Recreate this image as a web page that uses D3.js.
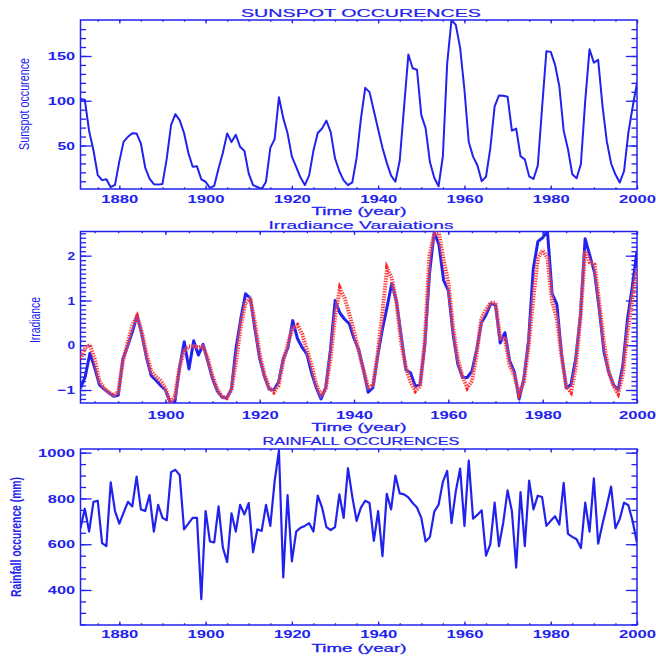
<!DOCTYPE html>
<html>
<head>
<meta charset="utf-8">
<script src="https://cdnjs.cloudflare.com/ajax/libs/d3/7.8.5/d3.min.js"></script>
<style>
  body { margin: 0; background: #ffffff; }
  svg { display: block; }
</style>
</head>
<body>
<svg id="chart" width="656" height="656"></svg>
<script>
// yearly sunspot numbers, 1871 - 2000
var sunYears = d3.range(1871, 2001);
var sunspots = [102, 101, 66.2, 44.7, 17.0, 11.3, 12.4, 3.4, 6.0, 32.3,
	54.3, 59.7, 63.7, 63.5, 52.2, 25.4, 13.1, 6.8, 6.3, 7.1,
	35.6, 73.0, 85.1, 78.0, 64.0, 41.8, 26.2, 26.7, 12.1, 9.5,
	2.7, 5.0, 24.4, 42.0, 63.5, 53.8, 62.0, 48.5, 43.9, 18.6,
	5.7, 3.6, 1.4, 9.6, 47.4, 57.1, 103.9, 80.6, 63.6, 37.6,
	26.1, 14.2, 5.8, 16.7, 44.3, 63.9, 69.0, 77.8, 64.9, 35.7,
	21.2, 11.1, 5.7, 8.7, 36.1, 79.7, 114.4, 109.6, 88.8, 67.8,
	47.5, 30.6, 16.3, 9.6, 33.2, 92.6, 151.6, 136.3, 134.7, 83.9,
	69.4, 31.5, 13.9, 4.4, 38.0, 141.7, 190.2, 184.8, 159.0, 112.3,
	53.9, 37.6, 27.9, 10.2, 15.1, 47.0, 93.8, 105.9, 105.5, 104.5,
	66.6, 68.9, 38.0, 34.5, 15.5, 12.6, 27.5, 92.5, 155.4, 154.6,
	140.4, 115.9, 66.6, 45.9, 17.9, 13.4, 29.4, 100.2, 157.6, 142.6,
	145.7, 94.3, 54.6, 29.9, 17.5, 8.6, 21.5, 64.3, 93.3, 119.6];

// irradiance variations, 1882 - 2000 (solid blue and dotted red curves)
var irrYears = d3.range(1882, 2001);
var irrSolid = [-0.96, -0.70, -0.18, -0.50, -0.88, -0.98, -1.06, -1.14, -1.12, -0.30,
	-0.02, 0.30, 0.67, 0.24, -0.28, -0.68, -0.78, -0.90, -1.00, -1.27,
	-1.27, -0.50, 0.08, -0.53, 0.10, -0.22, 0.02, -0.36, -0.75, -1.02,
	-1.16, -1.18, -0.98, -0.05, 0.60, 1.15, 1.05, 0.35, -0.30, -0.70,
	-0.98, -1.00, -0.82, -0.30, -0.05, 0.55, 0.15, -0.05, -0.20, -0.62,
	-0.95, -1.20, -0.95, -0.10, 1.00, 0.72, 0.58, 0.48, 0.15, -0.10,
	-0.55, -1.05, -0.95, -0.25, 0.35, 0.85, 1.38, 0.98, 0.20, -0.55,
	-0.62, -0.92, -0.88, 0.00, 1.60, 2.52, 2.25, 1.45, 1.22, 0.25,
	-0.42, -0.72, -0.72, -0.58, -0.10, 0.50, 0.68, 0.93, 0.90, 0.05,
	0.28, -0.35, -0.60, -1.20, -0.75, 0.10, 1.70, 2.32, 2.40, 2.56,
	1.15, 0.92, -0.20, -0.95, -0.88, -0.30, 0.65, 2.38, 2.00, 1.62,
	0.80, -0.15, -0.60, -0.88, -1.00, -0.45, 0.60, 1.30, 2.10];
var irrDotted = [-0.30, -0.05, 0.00, -0.30, -0.80, -0.95, -1.05, -1.12, -1.05, -0.35,
	0.05, 0.45, 0.65, 0.30, -0.20, -0.58, -0.70, -0.80, -0.95, -1.28,
	-1.15, -0.50, -0.12, -0.03, -0.02, -0.05, -0.02, -0.30, -0.68, -0.98,
	-1.15, -1.18, -1.00, -0.35, 0.45, 0.95, 1.05, 0.50, -0.20, -0.65,
	-0.95, -1.05, -0.90, -0.35, 0.05, 0.38, 0.45, 0.25, -0.10, -0.45,
	-0.88, -1.12, -0.98, -0.30, 0.65, 1.27, 1.05, 0.70, 0.30, -0.15,
	-0.55, -0.95, -0.90, -0.20, 0.70, 1.72, 1.50, 0.95, 0.05, -0.50,
	-0.82, -1.02, -0.92, 0.10, 2.00, 2.50, 2.50, 1.90, 1.40, 0.40,
	-0.30, -0.70, -0.95, -0.80, -0.20, 0.60, 0.80, 0.95, 0.95, 0.15,
	0.15, -0.45, -0.68, -1.08, -0.82, -0.05, 1.05, 1.95, 2.12, 1.95,
	0.98, 0.60, -0.25, -0.92, -1.05, -0.50, 0.60, 2.10, 1.85, 1.80,
	0.95, 0.05, -0.60, -0.90, -1.08, -0.65, 0.30, 1.05, 1.72];

// rainfall (mm), 1871 - 2000
var rainYears = d3.range(1871, 2001);
var rainfall = [670, 755, 655, 785, 790, 605, 592, 870, 745, 690,
	738, 785, 765, 895, 752, 745, 815, 655, 772, 715,
	705, 915, 925, 902, 665, 690, 715, 715, 360, 745,
	612, 608, 765, 585, 522, 735, 655, 772, 730, 780,
	565, 665, 658, 772, 680, 875, 1010, 455, 815, 525,
	655, 672, 680, 692, 655, 812, 760, 675, 662, 675,
	818, 715, 932, 808, 702, 760, 790, 780, 615, 745,
	548, 820, 752, 900, 822, 818, 805, 780, 760, 715,
	612, 632, 742, 772, 872, 920, 692, 832, 930, 680,
	965, 712, 728, 748, 550, 600, 782, 592, 695, 835,
	745, 498, 828, 592, 878, 752, 812, 806, 680, 702,
	722, 686, 868, 645, 632, 622, 583, 782, 655, 888,
	602, 688, 768, 852, 670, 710, 782, 770, 700, 605];

// tick labels
var xTicksLong = [1880, 1900, 1920, 1940, 1960, 1980, 2000];
var xTicksShort = [1900, 1920, 1940, 1960, 1980, 2000];
var sunTicks = [50, 100, 150];
var irrTicks = [-1, 0, 1, 2];
var rainTicks = [400, 600, 800, 1000];

var svg = d3.select("#chart");
var blue = "#2222ee";
var left = 80.5, right = 637;
var font = "'Liberation Sans', Arial, sans-serif";

// stretch the labels so they look like the wide idl vector font
function labelWidth(s) {
	return s.length * 9.8 - 2.2;
}

function styleAxis(sel) {
	sel.select(".domain").remove();
	sel.attr("color", blue)
		.attr("font-family", font)
		.attr("font-size", 11.5)
		.attr("font-weight", "bold");
	sel.selectAll("line").attr("stroke-width", 1.3);
}

function drawPanel(p) {
	var x = d3.scaleLinear().domain(p.xDomain).range([left, right]);
	var y = d3.scaleLinear().domain(p.yDomain).range([p.bottom, p.top]);
	var g = svg.append("g");
	var ylen = 0.02 * (right - left);
	var xlen = 0.02 * (p.bottom - p.top);

	// minor ticks, all four sides
	g.append("g").attr("transform", "translate(0," + p.bottom + ")")
		.call(d3.axisBottom(x).tickValues(p.xMinor).tickSize(-xlen / 2).tickFormat("")).call(styleAxis);
	g.append("g").attr("transform", "translate(0," + p.top + ")")
		.call(d3.axisTop(x).tickValues(p.xMinor).tickSize(-xlen / 2).tickFormat("")).call(styleAxis);
	g.append("g").attr("transform", "translate(" + left + ",0)")
		.call(d3.axisLeft(y).tickValues(p.yMinor).tickSize(-ylen / 2).tickFormat("")).call(styleAxis);
	g.append("g").attr("transform", "translate(" + right + ",0)")
		.call(d3.axisRight(y).tickValues(p.yMinor).tickSize(-ylen / 2).tickFormat("")).call(styleAxis);

	// major ticks with labels
	var xb = g.append("g").attr("transform", "translate(0," + p.bottom + ")")
		.call(d3.axisBottom(x).tickValues(p.xMajor).tickSize(-xlen).tickFormat(d3.format("d"))).call(styleAxis);
	xb.selectAll("text").attr("dy", null).attr("y", p.xLabelY)
		.attr("textLength", function() { return labelWidth(this.textContent); })
		.attr("lengthAdjust", "spacingAndGlyphs");
	g.append("g").attr("transform", "translate(0," + p.top + ")")
		.call(d3.axisTop(x).tickValues(p.xMajor).tickSize(-xlen).tickFormat("")).call(styleAxis);
	var yl = g.append("g").attr("transform", "translate(" + left + ",0)")
		.call(d3.axisLeft(y).tickValues(p.yMajor).tickSize(-ylen).tickPadding(5.5).tickFormat(d3.format("d")))
		.call(styleAxis);
	yl.selectAll("text")
		.attr("textLength", function() { return labelWidth(this.textContent); })
		.attr("lengthAdjust", "spacingAndGlyphs");
	g.append("g").attr("transform", "translate(" + right + ",0)")
		.call(d3.axisRight(y).tickValues(p.yMajor).tickSize(-ylen).tickFormat("")).call(styleAxis);

	// frame
	g.append("rect")
		.attr("x", left).attr("y", p.top)
		.attr("width", right - left).attr("height", p.bottom - p.top)
		.attr("fill", "none").attr("stroke", blue).attr("stroke-width", 1.5);

	// clip for the curves
	svg.append("clipPath").attr("id", p.id)
		.append("rect")
		.attr("x", left).attr("y", p.top)
		.attr("width", right - left).attr("height", p.bottom - p.top);

	// title, x title, y title
	g.append("text")
		.attr("x", 361).attr("y", p.titleY)
		.attr("text-anchor", "middle")
		.attr("font-family", font).attr("font-size", 11.5)
		.attr("fill", blue).attr("stroke", blue).attr("stroke-width", 0.2)
		.attr("textLength", p.titleW).attr("lengthAdjust", "spacingAndGlyphs")
		.text(p.title);
	g.append("text")
		.attr("x", 359).attr("y", p.timeY)
		.attr("text-anchor", "middle")
		.attr("font-family", font).attr("font-size", 11)
		.attr("fill", blue).attr("stroke", blue).attr("stroke-width", 0.3)
		.attr("textLength", 95).attr("lengthAdjust", "spacingAndGlyphs")
		.text("Time (year)");
	g.append("text")
		.attr("transform", "translate(" + p.yTitleX + "," + p.yTitleY + ") rotate(-90)")
		.attr("text-anchor", "middle")
		.attr("font-family", font).attr("font-size", 14).attr("font-weight", p.yTitleBold ? "bold" : "normal")
		.attr("fill", blue)
		.attr("textLength", p.yTitleW).attr("lengthAdjust", "spacingAndGlyphs")
		.text(p.yTitle);

	return { x: x, y: y, g: g.append("g").attr("clip-path", "url(#" + p.id + ")") };
}

// panel 1: sunspots
var p1 = drawPanel({
	id: "clip1", top: 20, bottom: 189,
	xDomain: [1871, 2000], yDomain: [1.4, 190.2],
	xMajor: xTicksLong, xMinor: d3.range(1875, 2001, 5),
	yMajor: sunTicks, yMinor: d3.range(10, 190, 10),
	xLabelY: 13.5, timeY: 215,
	title: "SUNSPOT OCCURENCES", titleY: 16.5, titleW: 240,
	yTitle: "Sunspot occurence", yTitleX: 29, yTitleY: 104, yTitleW: 92
});
p1.g.append("path")
	.datum(sunYears)
	.attr("fill", "none").attr("stroke", blue).attr("stroke-width", 2)
	.attr("stroke-linejoin", "round")
	.attr("d", d3.line().x(function(d) { return p1.x(d); })
		.y(function(d, i) { return p1.y(sunspots[i]); }));

// panel 2: irradiance
var p2 = drawPanel({
	id: "clip2", top: 231.5, bottom: 403,
	xDomain: [1882, 2000], yDomain: [-1.29, 2.54],
	xMajor: xTicksShort, xMinor: d3.range(1885, 2001, 5),
	yMajor: irrTicks, yMinor: d3.range(-12, 26).map(function(d) { return d / 10; }),
	xLabelY: 16, timeY: 430.5,
	title: "Irradiance Varaiations", titleY: 229, titleW: 185,
	yTitle: "Irradiance", yTitleX: 39.5, yTitleY: 320, yTitleW: 46
});
var irrLine = function(vals) {
	return d3.line().x(function(d) { return p2.x(d); })
		.y(function(d, i) { return p2.y(vals[i]); });
};
p2.g.append("path")
	.datum(irrYears)
	.attr("fill", "none").attr("stroke", blue).attr("stroke-width", 3)
	.attr("stroke-linejoin", "round")
	.attr("d", irrLine(irrSolid));
p2.g.append("path")
	.datum(irrYears)
	.attr("fill", "none").attr("stroke", "#ff9a9a").attr("stroke-width", 4)
	.attr("opacity", 0.35)
	.attr("d", irrLine(irrDotted));
p2.g.append("path")
	.datum(irrYears)
	.attr("fill", "none").attr("stroke", "#ff2424").attr("stroke-width", 4)
	.attr("stroke-dasharray", "1,1.6")
	.attr("d", irrLine(irrDotted));

// panel 3: rainfall
var p3 = drawPanel({
	id: "clip3", top: 449, bottom: 625,
	xDomain: [1871, 2000], yDomain: [247, 1016],
	xMajor: xTicksLong, xMinor: d3.range(1875, 2001, 5),
	yMajor: rainTicks, yMinor: d3.range(250, 1001, 50),
	xLabelY: 13, timeY: 652,
	title: "RAINFALL OCCURENCES", titleY: 445, titleW: 197,
	yTitle: "Rainfall occurence (mm)", yTitleX: 21, yTitleY: 537, yTitleW: 120, yTitleBold: true
});
p3.g.append("path")
	.datum(rainYears)
	.attr("fill", "none").attr("stroke", blue).attr("stroke-width", 2.2)
	.attr("stroke-linejoin", "round")
	.attr("d", d3.line().x(function(d) { return p3.x(d); })
		.y(function(d, i) { return p3.y(rainfall[i]); }));
</script>
</body>
</html>
